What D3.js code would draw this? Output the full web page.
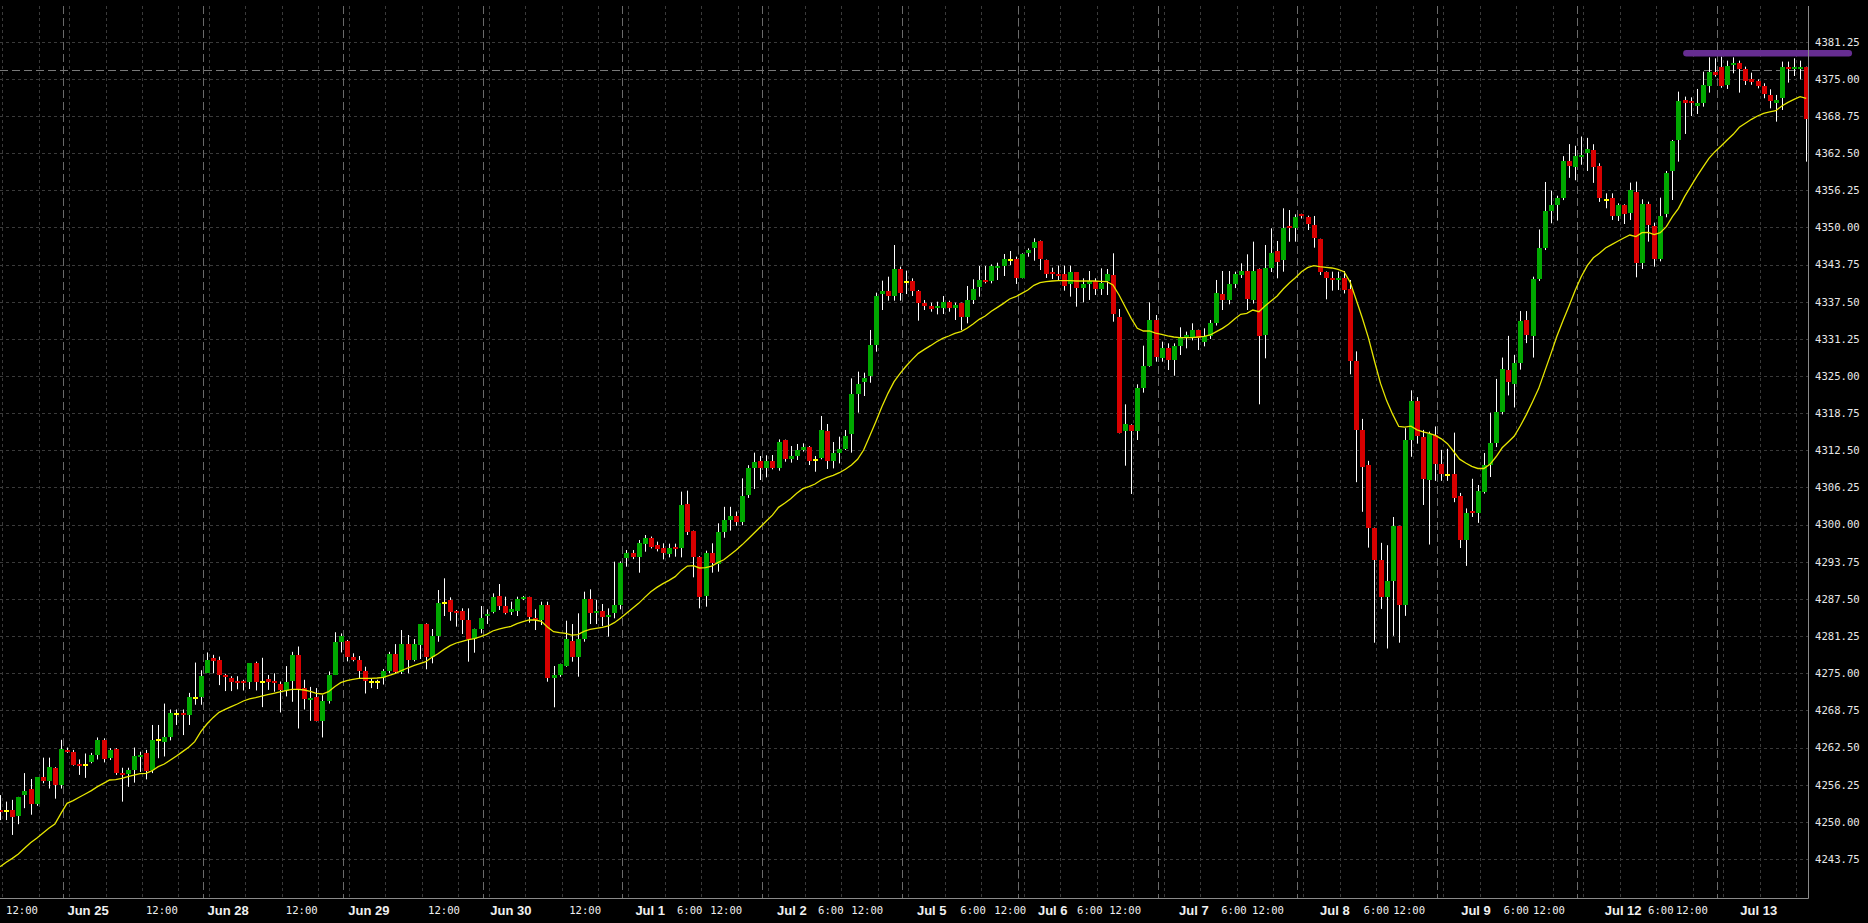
<!DOCTYPE html>
<html><head><meta charset="utf-8">
<script src="https://cdn.jsdelivr.net/npm/d3@7"></script>
<style>html,body{margin:0;padding:0;background:#000;overflow:hidden}</style>
</head><body>
<svg id="c" width="1868" height="923"></svg>
<script>
// ---- DATA (hourly candles, index 0..297) ----
const opens = [4252.0,4251.9,4252.0,4251.0,4254.5,4255.5,4253.0,4257.5,4256.8,4259.1,
4256.2,4262.1,4261.75,4259.7,4259.6,4260.1,4261.25,4263.8,4260.8,4262.3,
4258.2,4258.05,4258.7,4261.0,4261.5,4258.7,4263.7,4263.5,4264.3,4268.15,
4268.3,4267.9,4270.9,4270.95,4275.1,4277.5,4277.2,4274.7,4274.15,4273.7,
4273.6,4273.6,4276.7,4273.6,4274.0,4273.6,4273.2,4272.0,4273.7,4278.1,
4272.5,4270.6,4270.95,4267.0,4270.3,4274.7,4280.3,4280.4,4277.7,4277.2,
4275.3,4273.6,4273.6,4274.15,4275.3,4278.2,4275.26,4279.92,4277.23,4279.75,
4283.28,4277.79,4281.26,4286.87,4287.32,4285.53,4285.53,4283.96,4280.76,4282.39,
4284.63,4285.36,4287.99,4286.31,4285.36,4285.53,4287.43,4287.77,4284.24,4283.96,
4286.48,4274.15,4274.7,4276.22,4280.48,4277.79,4280.76,4287.43,4285.08,4285.53,
4284.41,4285.08,4286.48,4294.33,4295.19,4294.61,4296.74,4297.81,4296.58,4296.13,
4295.06,4296.3,4296.13,4303.47,4298.93,4294.61,4288.0,4295.17,4293.38,4298.7,
4300.8,4301.5,4300.4,4304.99,4309.58,4310.71,4309.58,4310.71,4309.58,4314.24,
4311.1,4311.55,4312.56,4313.06,4310.93,4311.27,4315.75,4310.76,4312.0,4312.73,
4315.3,4321.98,4324.05,4325.06,4330.22,4338.86,4339.31,4338.52,4343.01,4340.88,
4340.99,4339.31,4337.29,4336.78,4336.5,4336.5,4337.46,4336.5,4337.23,4334.99,
4337.79,4340.04,4341.16,4341.05,4343.29,4343.51,4344.58,4344.69,4341.55,4345.64,
4346.6,4347.72,4344.52,4342.45,4342.17,4342.17,4340.43,4342.45,4339.76,4340.43,
4340.99,4339.65,4340.99,4342.0,4334.88,4315.81,4316.76,4315.81,4322.93,4326.69,
4334.43,4328.09,4329.66,4327.7,4330.11,4331.63,4331.63,4332.75,4330.79,4331.8,
4333.87,4338.8,4337.79,4340.43,4342.0,4342.67,4337.79,4343.01,4331.9,4343.23,
4346.04,4344.52,4350.24,4349.85,4352.21,4351.76,4350.41,4348.06,4342.56,4341.44,
4341.16,4341.44,4339.59,4327.5,4315.94,4310.03,4299.43,4294.05,4287.85,4290.57,
4299.72,4286.4,4314.32,4320.75,4314.78,4307.54,4315.07,4310.27,4308.41,4308.53,
4304.82,4297.41,4302.33,4302.04,4305.52,4310.03,4313.74,4318.96,4325.96,4323.65,
4327.24,4334.48,4331.76,4341.26,4346.53,4352.84,4353.71,4354.93,4361.13,4360.09,
4361.94,4362.58,4363.1,4360.4,4354.62,4355.01,4351.99,4353.78,4352.49,4355.91,
4344.08,4353.95,4350.3,4344.75,4352.27,4359.56,4364.72,4371.45,4371.28,4370.49,
4370.89,4373.86,4376.21,4377.05,4373.97,4377.28,4377.62,4376.61,4374.92,4374.64,
4373.86,4372.29,4371.0,4371.84,4377.05,4376.61,4376.61,4376.94];

const highs = [4254.5,4253.4,4253.7,4254.2,4258.2,4257.2,4257.5,4260.8,4260.8,4259.2,
4263.8,4262.5,4262.1,4260.5,4261.5,4261.6,4264.2,4264.05,4262.4,4262.4,
4259.1,4259.1,4262.5,4261.8,4262.1,4266.3,4266.3,4269.9,4268.9,4268.9,
4268.9,4271.7,4276.8,4275.5,4278.5,4278.1,4277.8,4274.9,4274.5,4274.5,
4273.9,4276.7,4276.95,4277.6,4274.7,4275.0,4273.6,4276.2,4278.6,4279.5,
4273.9,4272.7,4272.5,4271.3,4275.3,4281.9,4281.7,4280.6,4278.35,4277.9,
4276.1,4274.15,4273.9,4275.7,4278.6,4279.9,4282.27,4281.43,4280.76,4283.28,
4283.4,4282.44,4289.0,4290.97,4287.77,4285.64,4285.92,4285.92,4282.5,4286.31,
4285.75,4288.44,4290.01,4287.88,4287.04,4287.88,4288.0,4287.88,4285.75,4287.04,
4287.04,4276.22,4276.6,4283.84,4283.28,4285.08,4288.72,4289.12,4287.32,4286.65,
4285.92,4293.77,4293.8,4295.73,4295.73,4297.42,4298.26,4298.0,4297.14,4296.86,
4296.8,4296.8,4305.55,4305.72,4299.0,4294.7,4295.62,4296.86,4300.22,4303.0,
4303.0,4302.2,4307.79,4310.0,4312.11,4311.55,4311.66,4311.72,4314.35,4314.3,
4313.23,4313.57,4313.68,4313.23,4311.55,4318.28,4316.93,4313.9,4314.8,4315.92,
4324.61,4325.74,4325.57,4332.75,4339.03,4341.05,4341.72,4347.05,4343.4,4342.73,
4341.44,4339.48,4337.79,4337.34,4337.51,4338.47,4337.68,4337.34,4337.34,4340.15,
4341.27,4343.51,4343.51,4343.79,4344.07,4345.53,4346.04,4345.08,4345.64,4346.49,
4348.17,4347.8,4344.6,4343.23,4343.57,4343.57,4343.57,4342.5,4341.44,4342.67,
4341.44,4343.12,4343.01,4345.65,4336.28,4320.24,4316.88,4323.61,4330.11,4337.4,
4335.27,4330.78,4330.5,4330.5,4333.2,4332.47,4333.87,4332.8,4333.03,4334.43,
4341.16,4342.67,4342.67,4342.56,4343.96,4345.48,4347.61,4343.1,4347.05,4349.85,
4347.72,4353.22,4352.93,4352.21,4352.3,4351.98,4351.93,4348.1,4342.6,4342.56,
4342.56,4342.67,4341.16,4329.15,4317.8,4310.73,4299.5,4296.94,4296.54,4301.29,
4299.8,4316.23,4322.6,4321.45,4315.94,4315.65,4316.52,4312.58,4312.76,4315.48,
4305.34,4302.73,4307.72,4306.67,4312.06,4318.84,4324.52,4328.11,4331.76,4328.57,
4335.93,4335.93,4341.72,4349.66,4357.65,4356.2,4355.34,4362.0,4364.02,4363.74,
4365.3,4365.07,4364.0,4360.8,4355.74,4355.74,4354.06,4353.89,4357.54,4357.71,
4354.73,4354.34,4350.81,4355.01,4359.5,4364.72,4372.85,4372.01,4371.89,4373.3,
4376.21,4378.62,4378.46,4378.74,4378.06,4378.62,4378.06,4377.05,4376.04,4374.9,
4374.25,4373.24,4372.29,4377.9,4377.9,4378.46,4378.06,4377.05];

const lows = [4250.3,4250.3,4247.8,4249.6,4252.3,4251.2,4252.7,4256.5,4255.6,4253.9,
4255.6,4261.6,4259.45,4257.9,4257.4,4259.85,4260.5,4260.0,4260.4,4257.9,
4253.4,4255.9,4256.6,4258.4,4257.15,4258.2,4260.7,4261.0,4263.7,4266.3,
4264.6,4266.3,4269.7,4269.7,4275.1,4275.0,4273.0,4272.0,4272.0,4272.3,
4272.1,4272.35,4272.1,4269.3,4272.2,4271.9,4268.4,4271.1,4270.2,4265.7,
4268.9,4267.0,4266.9,4264.2,4269.9,4274.7,4278.5,4277.0,4277.0,4274.15,
4271.6,4272.5,4272.35,4273.1,4275.0,4275.0,4274.87,4274.98,4277.0,4277.4,
4275.66,4276.67,4280.3,4284.63,4283.84,4282.84,4281.6,4276.95,4278.46,4281.71,
4283.29,4285.08,4285.64,4284.9,4284.8,4284.63,4287.3,4283.51,4282.27,4283.12,
4273.58,4269.27,4274.4,4276.1,4276.95,4274.42,4280.31,4283.28,4283.28,4282.95,
4281.15,4284.24,4285.75,4292.93,4294.2,4291.92,4295.45,4296.0,4295.5,4294.16,
4294.5,4294.61,4294.5,4298.26,4291.14,4285.92,4286.2,4291.92,4292.09,4297.8,
4299.0,4299.8,4299.9,4304.5,4306.0,4307.51,4307.96,4309.3,4309.08,4310.59,
4310.43,4310.88,4312.3,4310.03,4308.91,4310.99,4309.36,4309.47,4310.31,4312.56,
4312.11,4318.84,4321.64,4323.88,4329.1,4336.11,4337.68,4337.68,4337.68,4338.8,
4338.47,4334.32,4336.11,4335.83,4335.38,4335.44,4335.83,4334.43,4332.75,4333.87,
4337.12,4338.35,4340.6,4340.6,4341.16,4341.83,4343.68,4340.49,4341.44,4345.08,
4344.41,4342.84,4341.5,4341.33,4340.99,4339.37,4338.36,4336.67,4337.4,4337.8,
4338.64,4338.64,4338.64,4334.15,4315.36,4309.92,4305.16,4314.24,4322.21,4326.58,
4327.42,4327.42,4326.02,4325.06,4328.54,4329.66,4331.0,4329.38,4330.0,4331.24,
4333.5,4336.11,4337.07,4339.8,4341.5,4336.11,4337.2,4320.24,4327.98,4342.5,
4341.44,4342.56,4347.6,4347.61,4351.5,4349.57,4346.6,4342.0,4337.91,4339.37,
4339.48,4338.9,4325.29,4307.14,4302.16,4296.13,4280.14,4285.82,4279.16,4281.3,
4280.14,4284.66,4311.42,4313.63,4303.31,4296.65,4307.37,4307.37,4307.37,4303.78,
4296.07,4293.06,4301.29,4300.3,4305.23,4308.01,4313.05,4318.55,4321.74,4319.71,
4326.08,4330.54,4328.11,4341.0,4346.2,4350.7,4351.16,4354.6,4358.35,4357.94,
4360.55,4359.51,4357.5,4354.3,4353.22,4351.26,4351.09,4350.58,4351.26,4341.61,
4343.01,4347.61,4343.41,4344.3,4351.71,4354.62,4361.07,4365.73,4368.75,4369.09,
4370.32,4372.68,4375.37,4373.5,4373.3,4375.93,4372.68,4373.97,4374.0,4373.4,
4371.73,4370.04,4367.8,4369.76,4374.36,4375.48,4374.92,4361.07];

const closes = [4251.7,4251.9,4250.9,4254.1,4255.2,4253.0,4257.5,4256.8,4259.2,4256.2,
4262.3,4261.8,4259.6,4259.45,4259.6,4261.25,4263.8,4260.6,4262.1,4258.3,
4257.9,4258.7,4261.1,4261.25,4258.6,4263.8,4263.7,4264.3,4268.3,4268.15,
4267.9,4271.0,4270.9,4274.5,4277.2,4277.1,4274.7,4274.3,4273.6,4273.3,
4273.3,4276.7,4273.6,4273.6,4273.6,4273.3,4272.1,4273.6,4278.1,4272.2,
4270.6,4270.9,4267.0,4270.3,4274.7,4280.3,4281.3,4277.8,4277.3,4275.3,
4273.75,4273.6,4273.6,4275.3,4278.2,4275.2,4279.92,4277.23,4279.92,4283.28,
4277.79,4281.26,4286.76,4286.87,4285.36,4285.19,4283.96,4280.76,4282.39,4284.24,
4284.97,4287.77,4286.31,4285.08,4285.75,4287.43,4287.77,4284.41,4283.96,4286.48,
4274.15,4274.7,4276.55,4280.76,4277.79,4280.76,4287.43,4285.08,4285.53,4284.41,
4284.8,4286.48,4293.6,4295.19,4294.61,4296.97,4297.81,4296.3,4295.85,4295.17,
4296.13,4295.85,4303.31,4298.82,4294.61,4287.88,4295.17,4293.6,4298.71,4300.8,
4301.5,4300.4,4304.87,4309.58,4310.54,4309.58,4310.71,4309.58,4313.9,4311.1,
4311.55,4312.56,4313.06,4310.76,4310.93,4315.92,4310.76,4312.0,4312.73,4314.97,
4321.98,4323.66,4324.61,4330.22,4338.47,4339.31,4338.52,4343.01,4338.92,4340.88,
4339.31,4337.34,4336.84,4336.28,4336.78,4337.46,4336.5,4336.95,4334.99,4337.79,
4339.64,4341.16,4340.88,4343.51,4343.51,4344.69,4344.58,4341.55,4345.53,4346.2,
4347.55,4344.64,4342.17,4342.17,4341.83,4340.21,4342.45,4339.76,4340.43,4340.99,
4339.65,4340.6,4342.11,4335.38,4315.48,4316.88,4315.81,4322.93,4326.69,4334.43,
4328.26,4329.66,4327.7,4330.11,4331.63,4331.9,4332.75,4331.35,4331.8,4333.87,
4339.03,4337.79,4340.43,4342.17,4342.67,4337.96,4342.67,4331.8,4343.23,4345.65,
4344.24,4349.96,4349.85,4351.7,4351.87,4350.53,4348.17,4342.56,4341.55,4341.16,
4341.44,4339.48,4327.5,4315.94,4309.74,4299.43,4294.05,4287.85,4290.57,4299.72,
4286.4,4314.21,4320.75,4314.9,4307.72,4315.19,4310.27,4308.53,4308.41,4304.47,
4297.41,4302.04,4302.04,4305.69,4310.03,4313.74,4318.96,4326.25,4323.94,4327.24,
4334.31,4331.99,4341.26,4346.53,4352.73,4353.71,4354.93,4361.13,4360.26,4362.0,
4362.17,4363.16,4360.2,4355.0,4354.62,4351.99,4353.78,4352.27,4356.3,4344.08,
4353.95,4350.41,4344.75,4351.93,4359.22,4364.55,4371.28,4371.0,4370.89,4370.99,
4373.97,4376.21,4375.71,4373.86,4377.17,4377.62,4376.61,4374.7,4374.53,4373.86,
4372.4,4371.33,4371.45,4376.94,4376.61,4376.94,4376.94,4368.31];

const maValues = [4242.46,4243.19,4243.86,4244.59,4245.55,4246.5,4247.23,4248.07,4248.91,4249.64,
4251.43,4253.12,4253.56,4254.13,4254.69,4255.25,4255.92,4256.48,4257.04,4257.1,
4257.32,4257.6,4257.88,4258.11,4258.16,4258.61,4259.28,4259.73,4260.41,4261.08,
4261.81,4262.54,4263.49,4265.17,4266.46,4267.53,4268.43,4268.93,4269.38,4269.83,
4270.33,4270.67,4270.89,4271.17,4271.4,4271.62,4271.85,4272.07,4272.3,4272.3,
4272.18,4271.96,4271.62,4271.51,4271.9,4272.74,4273.42,4273.75,4273.98,4274.15,
4274.15,4274.15,4274.2,4274.31,4274.65,4274.99,4275.43,4275.88,4276.27,4276.61,
4276.95,4277.68,4278.29,4279.02,4279.64,4280.09,4280.37,4280.65,4280.82,4281.15,
4281.55,4282.11,4282.44,4282.67,4282.89,4283.34,4283.68,4283.96,4283.96,4283.73,
4282.78,4281.99,4281.83,4281.71,4281.43,4281.49,4282.05,4282.39,4282.56,4282.72,
4282.95,4283.51,4284.24,4285.08,4285.92,4286.76,4287.77,4288.72,4289.45,4290.07,
4290.63,4291.25,4292.26,4293.04,4293.1,4292.71,4292.76,4293.04,4293.6,4294.1,
4294.9,4295.7,4296.6,4297.6,4298.6,4299.6,4300.6,4301.6,4302.91,4303.59,
4304.37,4305.27,4306.05,4306.39,4306.84,4307.51,4307.96,4308.3,4308.74,4309.31,
4310.03,4310.99,4312.56,4314.91,4317.32,4319.85,4322.09,4324.05,4325.46,4326.69,
4327.81,4328.82,4329.49,4330.11,4330.78,4331.34,4331.74,4332.18,4332.47,4333.03,
4333.76,4334.54,4335.1,4335.89,4336.56,4337.23,4337.96,4338.35,4338.92,4339.48,
4340.26,4340.71,4340.88,4340.99,4341.05,4341.05,4341.05,4340.99,4340.99,4340.99,
4340.99,4340.94,4340.88,4340.32,4338.64,4336.67,4334.71,4333.03,4332.58,4332.58,
4332.24,4332.02,4331.74,4331.57,4331.46,4331.46,4331.46,4331.57,4331.68,4331.91,
4332.47,4333.03,4333.7,4334.6,4335.38,4335.55,4336.11,4335.83,4336.78,4337.63,
4338.47,4339.65,4340.66,4341.55,4342.56,4343.23,4343.57,4343.4,4343.29,4343.18,
4342.95,4342.56,4340.8,4337.84,4334.77,4331.47,4327.53,4323.76,4320.87,4318.55,
4316.52,4316.41,4316.58,4315.94,4315.6,4315.36,4315.02,4314.44,4313.63,4312.35,
4311.02,4310.38,4309.8,4309.45,4309.45,4310.15,4311.42,4312.93,4313.92,4314.9,
4316.64,4318.55,4320.69,4322.89,4325.79,4328.69,4331.7,4334.31,4336.8,4339.4,
4341.72,4343.58,4344.9,4345.65,4346.55,4347.11,4347.67,4348.23,4348.73,4348.45,
4349.13,4349.18,4348.79,4349.13,4350.14,4351.82,4353.22,4355.18,4356.86,4358.55,
4360.12,4361.63,4362.75,4363.71,4364.72,4365.67,4366.85,4367.52,4368.19,4368.75,
4369.2,4369.43,4369.65,4370.44,4371.05,4371.56,4372.01,4371.73];

// session starts (candle index of first bar of each trading day)
const dayStarts = [-12, 11, 34, 57, 80, 103, 126, 149, 168, 191, 214, 237, 260, 283, 306];

// x-axis tick labels and the (fractional) bar index they sit at
const xTickLabels = ["12:00","Jun 25","12:00","Jun 28","12:00","Jun 29","12:00","Jun 30","12:00",
"Jul 1","6:00","12:00","Jul 2","6:00","12:00","Jul 5","6:00","12:00","Jul 6","6:00","12:00",
"Jul 7","6:00","12:00","Jul 8","6:00","12:00","Jul 9","6:00","12:00","Jul 12","6:00","12:00","Jul 13"];
const xTickIdx = [3.6,14.45,26.6,37.5,49.6,60.65,73.0,84.0,96.2,
106.9,113.4,119.4,130.2,136.6,142.6,153.2,160.0,166.1,173.1,179.2,185.0,
196.3,202.9,208.5,219.5,226.3,231.7,242.7,249.3,254.7,266.9,273.1,278.2,289.2];

// y-axis ticks
const yTickValues = [4243.75,4250.00,4256.25,4262.50,4268.75,4275.00,4281.25,4287.50,4293.75,4300.00,
4306.25,4312.50,4318.75,4325.00,4331.25,4337.50,4343.75,4350.00,4356.25,4362.50,4368.75,4375.00,4381.25];

const priceLineValue = 4376.44;
const levelLine = [{idx: 277.3, v: 4379.3}, {idx: 304, v: 4379.3}];

// ---- DRAW ----
const W = 1868, H = 923;
const plot = {l: 0, r: 1808, t: 6, b: 898};
const n = closes.length;
const x = d3.scaleLinear().domain([0, 297]).range([0.15, 1806.2]);
const y = d3.scaleLinear().domain([4243.75, 4381.25]).range([859, 41.7]);

const svg = d3.select('#c');
svg.append('rect').attr('width', W).attr('height', H).attr('fill', '#000');
svg.append('defs').append('clipPath').attr('id', 'clip')
  .append('rect').attr('x', plot.l).attr('y', plot.t).attr('width', plot.r - plot.l).attr('height', plot.b - plot.t);

const g = svg.append('g').attr('clip-path', 'url(#clip)');

// horizontal grid
g.append('g').selectAll('line').data(yTickValues).join('line')
  .attr('x1', plot.l).attr('x2', plot.r)
  .attr('y1', d => Math.round(y(d)) + 0.5).attr('y2', d => Math.round(y(d)) + 0.5)
  .attr('stroke', '#3a3a3a').attr('stroke-width', 1).attr('stroke-dasharray', '3,3');

// vertical light grid (every 6 bars inside each session)
const vgrid = [];
for (let k = 0; k < dayStarts.length - 1; k++) {
  for (let h = 0; h < 24; h += 6) {
    const idx = dayStarts[k] + h;
    if (idx < dayStarts[k + 1] && idx >= 0 && idx < n) vgrid.push(idx);
  }
}
g.append('g').selectAll('line').data(vgrid).join('line')
  .attr('x1', d => Math.round(x(d)) + 2.5).attr('x2', d => Math.round(x(d)) + 2.5)
  .attr('y1', plot.t).attr('y2', plot.b)
  .attr('stroke', '#3a3a3a').attr('stroke-width', 1).attr('stroke-dasharray', '3,3');

// day separators
const seps = dayStarts.filter(d => d > 0 && d < n);
g.append('g').selectAll('line').data(seps).join('line')
  .attr('x1', d => Math.round(x(d)) - 3.5).attr('x2', d => Math.round(x(d)) - 3.5)
  .attr('y1', plot.t).attr('y2', plot.b)
  .attr('stroke', '#6a6a6a').attr('stroke-width', 1).attr('stroke-dasharray', '8,4');

// price line
g.append('line')
  .attr('x1', plot.l).attr('x2', plot.r)
  .attr('y1', Math.round(y(priceLineValue)) + 0.5).attr('y2', Math.round(y(priceLineValue)) + 0.5)
  .attr('stroke', '#7a7a7a').attr('stroke-width', 1).attr('stroke-dasharray', '8,4');

// candles
const idxs = d3.range(n);
const cg = g.append('g');
cg.selectAll('line.w').data(idxs).join('line').attr('class', 'w')
  .attr('x1', i => Math.round(x(i)) + 0.5).attr('x2', i => Math.round(x(i)) + 0.5)
  .attr('y1', i => y(highs[i])).attr('y2', i => y(lows[i]))
  .attr('stroke', '#ffffff').attr('stroke-width', 1);
cg.selectAll('rect.b').data(idxs).join('rect').attr('class', 'b')
  .attr('x', i => Math.round(x(i)) - 2)
  .attr('width', 5)
  .attr('y', i => {
    const t = y(Math.max(opens[i], closes[i])), b = y(Math.min(opens[i], closes[i]));
    return (b - t < 2) ? (t + b) / 2 - 1 : t;
  })
  .attr('height', i => {
    const t = y(Math.max(opens[i], closes[i])), b = y(Math.min(opens[i], closes[i]));
    return Math.max(2, b - t);
  })
  .attr('fill', i => closes[i] > opens[i] ? '#00a800' : (closes[i] < opens[i] ? '#d80000' : '#ffff00'))
  .attr('shape-rendering', 'crispEdges');

// moving average
g.append('path').datum(maValues)
  .attr('d', d3.line().x((d, i) => x(i)).y(d => y(d)))
  .attr('fill', 'none').attr('stroke', '#e6e600').attr('stroke-width', 1.3);

// purple level line (extends over axis area)
svg.append('path').datum(levelLine)
  .attr('d', d3.line().x(d => x(d.idx)).y(d => y(d.v)))
  .attr('stroke', '#662d91').attr('stroke-width', 6.5).attr('stroke-linecap', 'round').attr('fill', 'none');

// axis frame
svg.append('line').attr('x1', plot.r + 0.5).attr('x2', plot.r + 0.5).attr('y1', plot.t).attr('y2', plot.b + 0.5)
  .attr('stroke', '#8a8a8a').attr('stroke-width', 1);
svg.append('line').attr('x1', plot.l).attr('x2', plot.r + 0.5).attr('y1', plot.b + 0.5).attr('y2', plot.b + 0.5)
  .attr('stroke', '#8a8a8a').attr('stroke-width', 1);

// y labels
svg.append('g').selectAll('text').data(yTickValues).join('text')
  .attr('x', plot.r + 7).attr('y', d => y(d)).attr('dy', '0.36em')
  .attr('font-family', 'DejaVu Sans Mono, monospace').attr('font-size', '10.6px')
  .attr('fill', '#e8e8e8').text(d => d3.format('.2f')(d));

// x labels
svg.append('g').selectAll('text').data(xTickLabels).join('text')
  .attr('x', (d, i) => x(xTickIdx[i]))
  .attr('y', d => /^J/.test(d) ? 914.5 : 913.5)
  .attr('text-anchor', 'middle')
  .attr('font-family', d => /^J/.test(d) ? 'Liberation Sans, Arial, sans-serif' : 'DejaVu Sans Mono, monospace')
  .attr('font-weight', d => /^J/.test(d) ? 'bold' : 'normal')
  .attr('font-size', d => /^J/.test(d) ? '13px' : '10.6px')
  .attr('fill', '#f0f0f0').text(d => d);
</script>
</body></html>
